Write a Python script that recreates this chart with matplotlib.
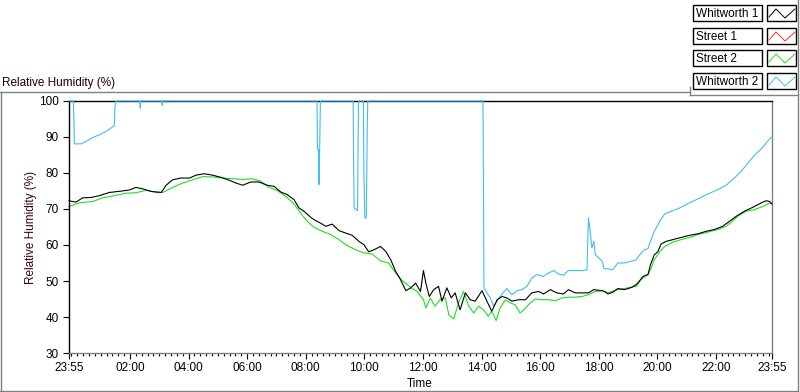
import matplotlib.pyplot as plt
from matplotlib.patches import Rectangle

plt.rcParams['font.family'] = ['Liberation Sans', 'DejaVu Sans']

# time axis: minutes after 23:55, readings
# Whitworth 1 (black)
w1_t = [0, 14, 28, 45, 62, 83, 103, 124, 137, 151, 168, 189, 199, 212, 229, 247, 260, 277, 294, 311, 328, 342, 356,
        372, 389, 406, 420, 434, 447, 461, 471, 481, 495, 505, 515, 526, 539, 553, 567, 580, 594, 604, 614, 625,
        638, 649, 659, 669, 679, 690, 700, 710, 720, 726, 731, 738, 747, 757, 764, 774, 783, 791, 801, 812, 822,
        832, 846, 856, 866, 877, 887, 897, 907, 921, 935, 948, 962, 972, 986, 999, 1013, 1023, 1037, 1051, 1064,
        1075, 1092, 1097, 1104, 1114, 1124, 1138, 1152, 1162, 1169, 1176, 1186, 1191, 1199, 1206, 1213, 1223,
        1237, 1254, 1271, 1288, 1305, 1322, 1339, 1353, 1367, 1384, 1401, 1418, 1428, 1435, 1440]
w1_v = [72.3, 71.9, 73.1, 73.2, 73.7, 74.6, 74.9, 75.3, 76.0, 75.6, 74.9, 74.6, 76.6, 78.1, 78.6, 78.6, 79.4, 79.8,
        79.4, 78.8, 78.0, 77.2, 76.6,
        77.5, 77.5, 76.6, 76.3, 74.7, 74.0, 72.6, 70.3, 69.4, 67.7, 66.8, 66.1, 65.2, 65.8, 64.0, 63.3, 62.7, 61.0,
        60.1, 58.1, 58.7, 59.6, 58.2, 55.9, 52.7, 50.4, 47.3, 48.1, 49.4, 47.1, 52.9, 49.4, 45.7, 47.6, 48.5, 44.4,
        48.1, 45.3, 46.7, 42.0, 46.7, 44.8, 44.4, 47.3, 44.4, 41.6, 44.8, 45.7, 45.3, 44.4, 44.8, 44.8, 46.7, 47.1,
        46.4, 47.6, 46.7, 46.4, 47.6, 46.7, 46.7, 46.7, 47.6, 47.3, 47.1, 46.4, 46.9, 47.9, 47.6, 48.2, 49.0, 50.1,
        51.3, 51.8, 54.5, 57.3, 58.1, 60.3, 61.0, 61.5, 62.1, 62.7, 63.1, 63.8, 64.3, 65.2, 66.6, 68.0, 69.4, 70.5,
        71.7, 72.3, 72.1, 71.4]

# Street 1 (red) - no data shown
s1_t = []
s1_v = []

# Street 2 (green)
s2_t = [0, 21, 49, 69, 96, 117, 137, 158, 178, 192, 212, 233, 253, 274, 294, 315, 335, 356,
        375, 393, 410, 427, 444, 461, 474, 488, 502, 519, 536, 553, 570, 587, 604, 621, 638, 655, 669, 683, 700,
        713, 726, 731, 740, 750, 760, 771, 778, 788, 798, 808, 819, 829, 839, 849, 859, 866, 875, 883, 894, 904,
        914, 924, 935, 945, 955, 969, 982, 996, 1010, 1023, 1037, 1051, 1064, 1078, 1092, 1104, 1124, 1145, 1162,
        1172, 1186, 1191, 1199, 1210, 1220, 1237, 1254, 1271, 1288, 1309, 1329, 1346, 1357, 1370, 1387, 1404,
        1421, 1435, 1440]
s2_v = [70.7, 71.7, 72.1, 73.1, 73.8, 74.4, 74.5, 75.2, 74.6, 74.6, 76.0, 77.2, 78.1, 79.0, 78.9, 78.6, 78.4, 78.2,
        78.4, 77.7, 76.0, 75.1, 73.5, 71.4, 68.9, 66.6, 64.9, 63.8, 62.9, 61.5, 59.8, 58.7, 57.8, 57.5, 55.6, 55.0,
        52.2, 50.1, 48.2, 47.1, 44.8, 42.5, 45.3, 43.0, 44.8, 45.3, 40.6, 39.5, 43.9, 47.1, 43.0, 41.1, 43.0, 42.0,
        40.2, 41.6, 39.0, 42.5, 44.8, 43.9, 43.4, 41.1, 42.5, 43.9, 45.0, 44.8, 44.8, 44.5, 45.3, 45.5, 45.5, 45.7,
        46.2, 47.1, 47.3, 46.7, 47.6, 48.1, 48.5, 50.4, 51.8, 53.1, 55.9, 58.1, 59.6, 60.8, 61.5, 62.1, 62.9, 63.6,
        64.3, 65.2, 66.4, 68.0, 69.4, 69.8, 70.7, 71.7, 71.4]

# Whitworth 2 (light blue)
w2_t = [0, 9, 10, 11, 25, 35, 49, 62, 76, 86, 93, 94, 96, 145, 146, 147, 190, 191, 192,
        508, 509, 511, 512, 513, 515, 582, 583, 584, 591, 593, 603, 604, 606, 609, 610, 611, 612,
        848, 849, 850, 856, 863, 870, 877, 887, 897, 907, 918, 928, 938, 948, 958, 972, 982, 993, 1003, 1013,
        1023, 1037, 1051, 1061, 1064, 1068, 1071, 1075, 1078, 1085, 1092, 1096, 1104, 1114, 1124, 1138, 1152,
        1162, 1169, 1179, 1186, 1191, 1199, 1210, 1220, 1234, 1251, 1268, 1288, 1309, 1329, 1346, 1363, 1377,
        1391, 1404, 1421, 1435, 1440]
w2_v = [100, 100, 95.0, 88.1, 88.1, 88.8, 89.9, 90.6, 91.6, 92.5, 93.2, 98.1, 100, 100, 98.0, 100, 100, 98.8, 100,
        100, 86.5, 86.5, 76.8, 82.8, 100, 100, 83.7, 70.3, 69.5, 100, 100, 80.5, 67.5, 67.5, 80.5, 93.4, 100,
        100, 76.3, 48.1, 46.7, 45.3, 43.0, 44.4, 46.4, 47.9, 46.2, 47.3, 47.6, 48.5, 50.8, 51.8, 51.3, 52.2, 52.9,
        51.9, 51.6, 52.9, 52.9, 52.9, 53.1, 67.5, 63.3, 59.2, 61.0, 57.3, 56.4, 55.5, 53.4, 53.4, 53.1, 55.0, 55.0,
        55.5, 55.9, 57.3, 58.7, 59.0, 61.0, 63.8, 66.6, 68.6, 69.4, 70.3, 71.5, 72.8, 74.2, 75.4, 76.6, 78.6, 80.5,
        82.8, 84.9, 87.1, 89.5, 90.0]

tick_pos = [0, 125, 245, 365, 485, 605, 725, 845, 965, 1085, 1205, 1325, 1440]
tick_lab = ['23:55', '02:00', '04:00', '06:00', '08:00', '10:00', '12:00',
            '14:00', '16:00', '18:00', '20:00', '22:00', '23:55']
minor_pos = list(range(5, 1440, 12))

names = ['Whitworth 1', 'Street 1', 'Street 2', 'Whitworth 2']
colors = ['#000000', '#ff3030', '#1ee01e', '#3fbff0']

W, H = 800, 392
fig = plt.figure(figsize=(8, 3.92), dpi=100)

# background overlay in pixel coords for frames / legend
bg = fig.add_axes([0, 0, 1, 1])
bg.set_xlim(0, W)
bg.set_ylim(H, 0)
bg.axis('off')

gray = '#808080'
bg.plot([0, 690], [92, 92], color=gray, lw=1)
bg.plot([690, 690], [87, 95], color=gray, lw=1)
bg.plot([690, 798], [95, 95], color=gray, lw=1)
bg.plot([798, 798], [0, 391], color=gray, lw=1)
bg.plot([0.5, 0.5], [92, 391], color=gray, lw=1)
bg.plot([0, 798], [390.5, 390.5], color=gray, lw=1)

fs = 8.5
bg.text(2, 83, 'Relative Humidity (%)', fontsize=fs, va='center', ha='left', color='#200000')
bg.text(31, 227, 'Relative Humidity (%)', fontsize=fs, va='center', ha='center', rotation=90, color='#400000')
bg.text(420, 384, 'Time', fontsize=fs, va='center', ha='center', color='#100000')

# legend boxes
rows = [5, 28, 50, 73]
for name, col, top in zip(names, colors, rows):
    bg.add_patch(Rectangle((693, top), 69, 16, fill=False, ec='black', lw=1))
    bg.add_patch(Rectangle((767, top), 29, 16, fill=False, ec='black', lw=1))
    bg.text(696, top + 8.5, name, fontsize=fs, va='center', ha='left')
    bg.plot([769, 776, 785, 795], [top + 12, top + 4, top + 13, top + 4], color=col, lw=0.7)

# main chart
ax = fig.add_axes([69 / W, 1 - 353 / H, 703 / W, 252 / H])
ax.plot(s2_t, s2_v, color=colors[2], lw=0.8, zorder=2, clip_on=False)
ax.plot(s1_t, s1_v, color=colors[1], lw=0.8, zorder=2)
ax.plot(w2_t, w2_v, color=colors[3], lw=0.8, zorder=3, clip_on=False)
ax.plot(w1_t, w1_v, color=colors[0], lw=0.8, zorder=4, clip_on=False)

ax.set_xlim(0, 1440)
ax.set_ylim(30, 100)
ax.set_yticks(range(30, 101, 10))
ax.set_xticks(tick_pos)
ax.set_xticklabels(tick_lab)
ax.set_xticks(minor_pos, minor=True)
ax.tick_params(axis='both', labelsize=fs, colors='black', width=0.8)
ax.tick_params(axis='y', length=4.5, pad=3)
ax.tick_params(axis='x', which='major', length=4, pad=2.5)
ax.tick_params(axis='x', which='minor', length=2.2, width=0.8)

ax.spines['left'].set_color('black')
ax.spines['top'].set_color('black')
ax.spines['right'].set_color(gray)
ax.spines['bottom'].set_color(gray)
for s in ax.spines.values():
    s.set_linewidth(1.0)

fig.savefig('out.png', dpi=100)
